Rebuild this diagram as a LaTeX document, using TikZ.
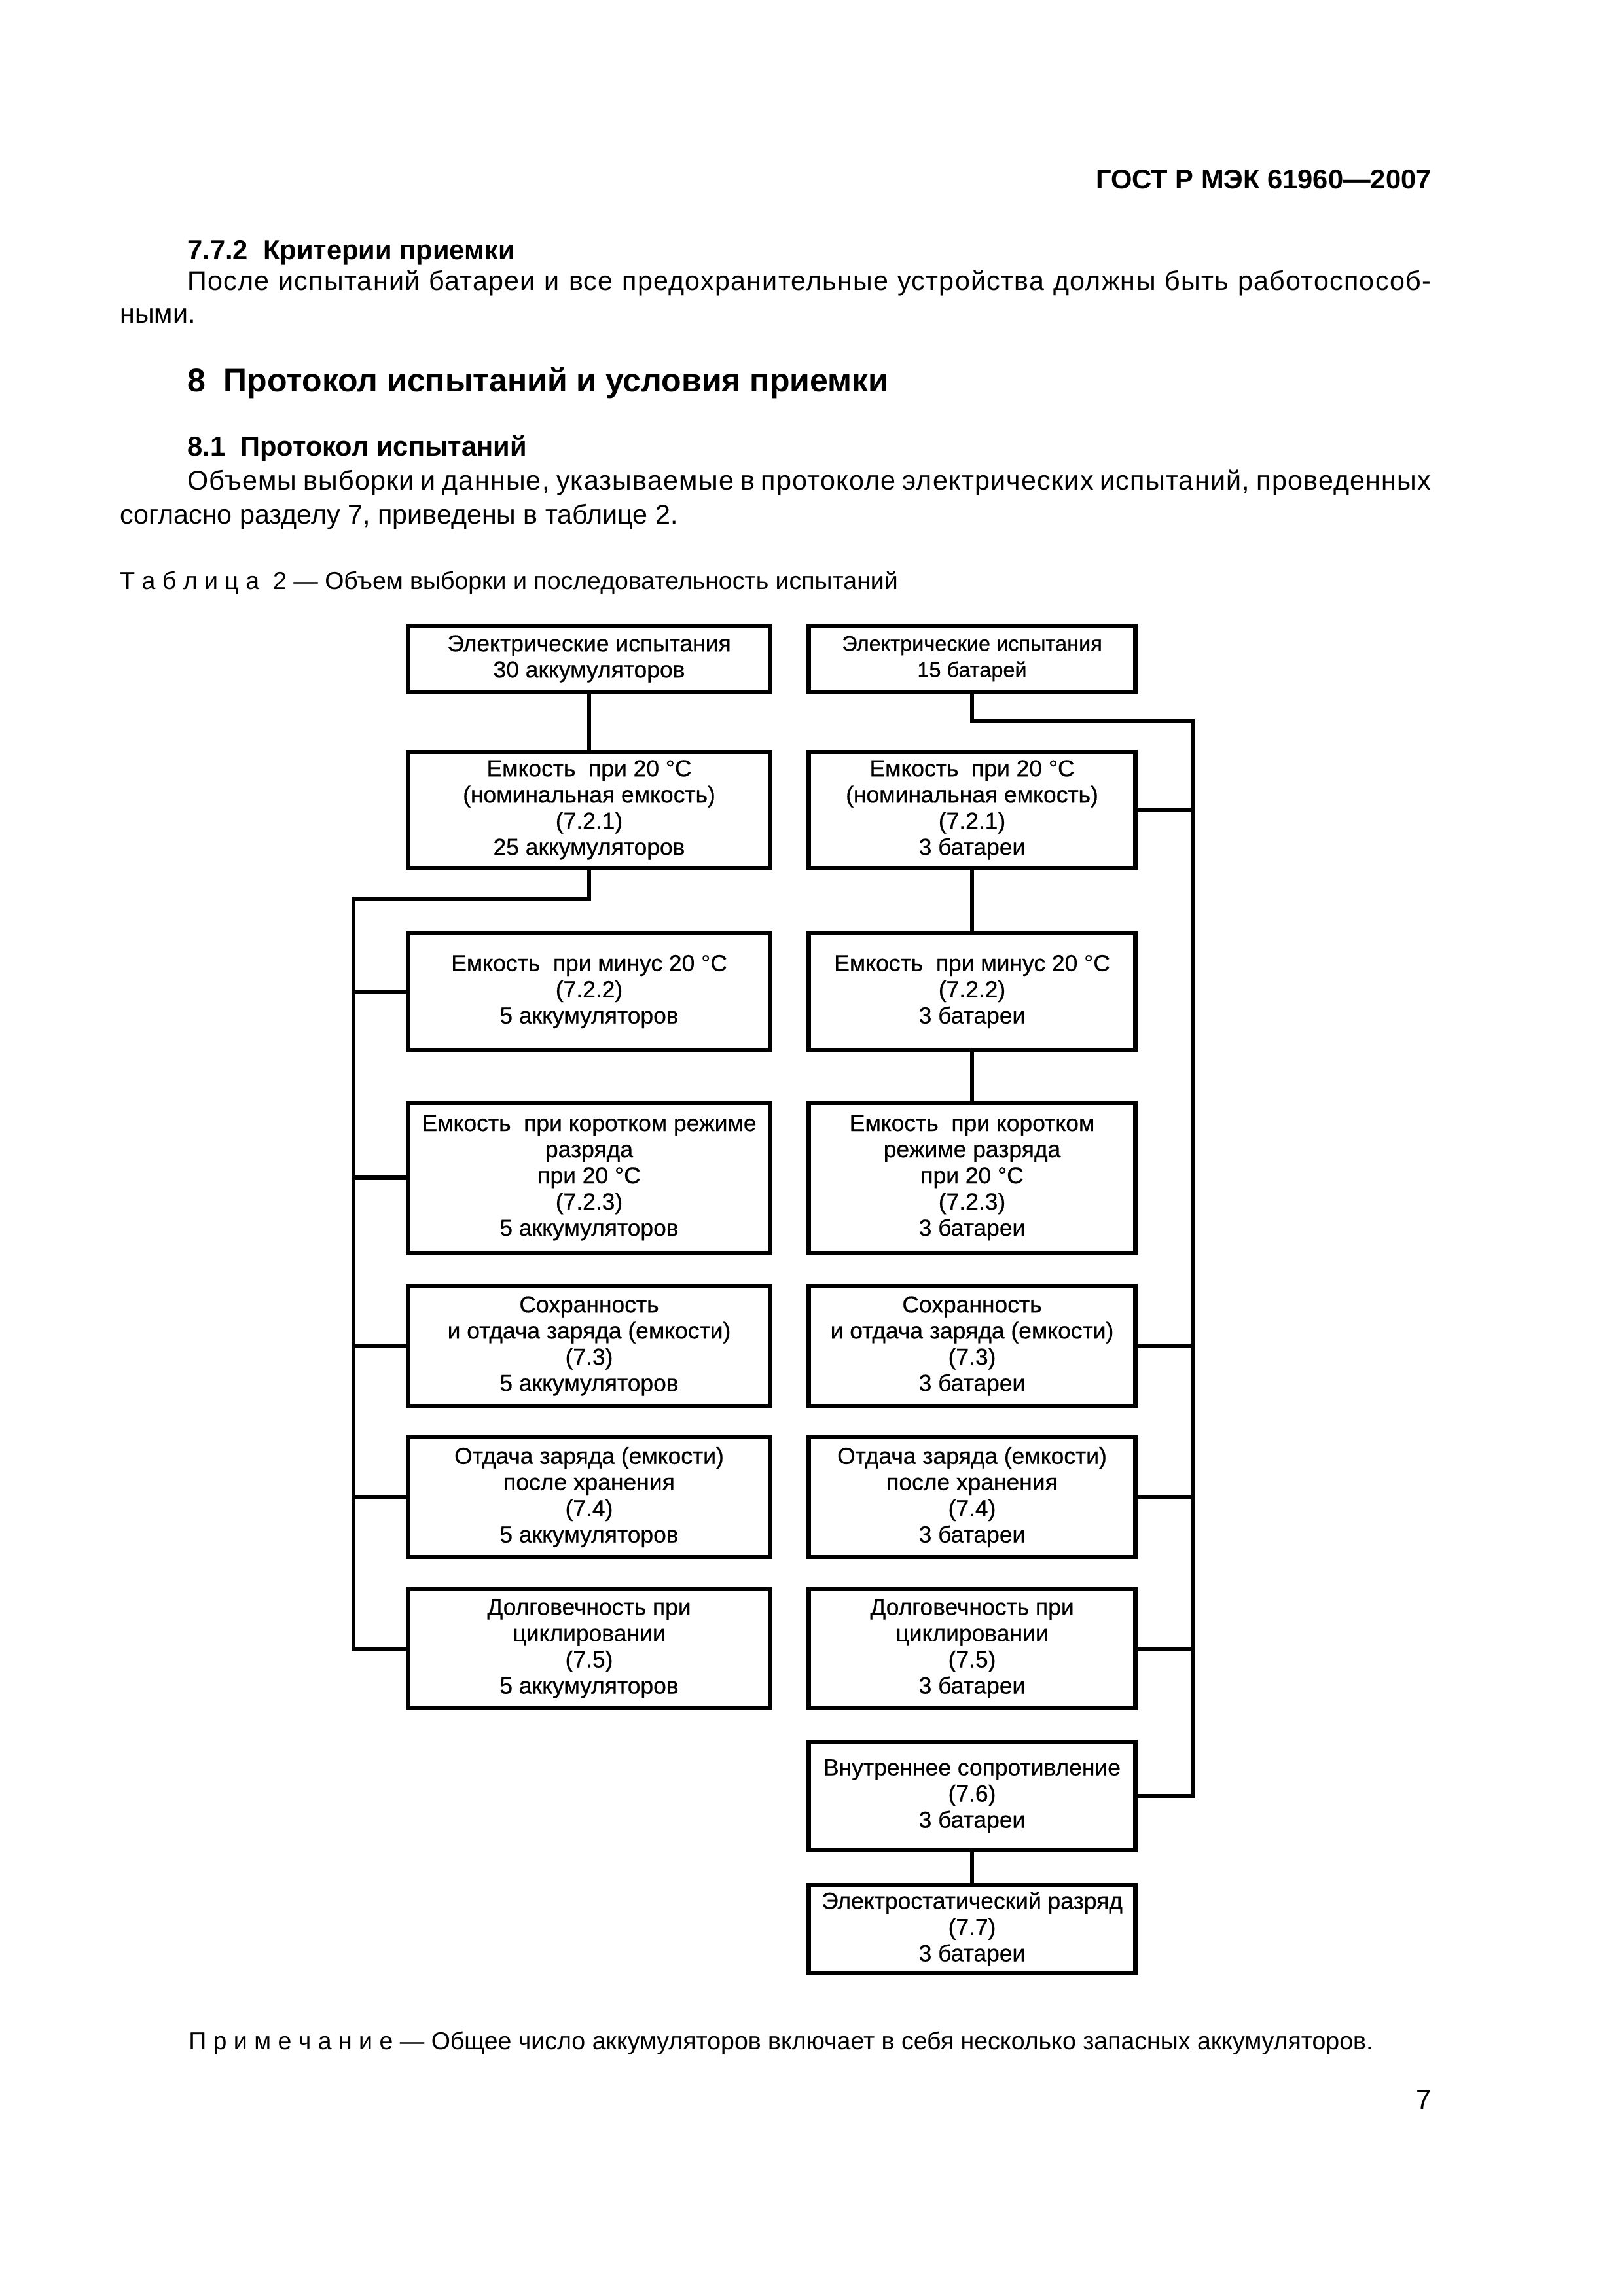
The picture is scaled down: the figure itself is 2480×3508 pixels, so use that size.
\documentclass[tikz,border=0pt]{standalone}
\usepackage{fontspec}
\setmainfont{Liberation Sans}
\newfontfamily\bxfam{Liberation Sans}[FakeBold=0.5]
\newfontfamily\spfam{Liberation Sans}[LetterSpace=3]
\newcommand\bxfont{\bxfam\fontsize{8.5}{9.6}\selectfont}
\newcommand\bxsmall{\bxfam\fontsize{7.8}{9.6}\selectfont}
\newcommand\bodyfont{\fontsize{9.9}{12}\selectfont}
\newcommand\bodysp{\spfam\fontsize{9.9}{12}\selectfont}
\begin{document}
\begin{tikzpicture}[x=0.24pt,y=-0.24pt,line width=1.6pt,
  lbox/.style={draw,rectangle,minimum width=553*0.24pt,inner sep=0pt,align=center,font=\bxfont},
  rbox/.style={draw,rectangle,minimum width=499*0.24pt,inner sep=0pt,align=center,font=\bxfont},
  txt/.style={anchor=base west,inner sep=0pt},
  conn/.style={line width=1.6pt}]
\fill[white] (0,0) rectangle (2480,3508);
\useasboundingbox (0,0) rectangle (2480,3508);

% page text
\node[anchor=base east,inner sep=0pt,font=\fontsize{10}{12}\selectfont\bfseries] (hdr) at (2190,289) {ГОСТ Р МЭК 61960—2007};
\node[txt,font=\fontsize{10}{12}\selectfont\bfseries] (s772) at (283,397) {7.7.2\ \ Критерии приемки};
\node[txt,font=\bodysp] (p1a) at (283,444) {\hbox to 456pt{После испытаний батареи и все предохранительные устройства должны быть работоспособ-}};
\node[txt,font=\bodyfont] (p1b) at (180,494) {ными.};
\node[txt,font=\fontsize{12}{14}\selectfont\bfseries] (s8) at (283,599) {8\ \ Протокол испытаний и условия приемки};
\node[txt,font=\fontsize{10}{12}\selectfont\bfseries] (s81) at (283,697) {8.1\ \ Протокол испытаний};
\node[txt,font=\bodysp] (p2a) at (283,749) {\hbox to 456pt{Объемы выборки и данные, указываемые в протоколе электрических испытаний, проведенных}};
\node[txt,font=\bodyfont] (p2b) at (180,801) {согласно разделу 7, приведены в таблице 2.};
\node[txt,font=\fontsize{9}{11}\selectfont] (cap) at (180,900) {Т а б л и ц а\ \ 2 — Объем выборки и последовательность испытаний};
\node[txt,font=\fontsize{9}{11}\selectfont] (note) at (285,3131) {П р и м е ч а н и е — Общее число аккумуляторов включает в себя несколько запасных аккумуляторов.};
\node[anchor=base east,inner sep=0pt,font=\fontsize{10}{12}\selectfont] (pg) at (2190,3222) {7};

% left column
\node[lbox,minimum height=101*0.24pt] (L1) at (900,1006.5) {Электрические испытания\\30 аккумуляторов};
\node[lbox,minimum height=177*0.24pt] (L2) at (900,1237.5) {Емкость~ при 20 °C\\(номинальная емкость)\\(7.2.1)\\25 аккумуляторов};
\node[lbox,minimum height=178*0.24pt] (L3) at (900,1515) {Емкость~ при минус 20 °C\\(7.2.2)\\5 аккумуляторов};
\node[lbox,minimum height=229*0.24pt] (L4) at (900,1799.5) {Емкость~ при коротком режиме\\разряда\\при 20 °C\\(7.2.3)\\5 аккумуляторов};
\node[lbox,minimum height=183*0.24pt] (L5) at (900,2056.5) {Сохранность\\и отдача заряда (емкости)\\(7.3)\\5 аккумуляторов};
\node[lbox,minimum height=183*0.24pt] (L6) at (900,2287.5) {Отдача заряда (емкости)\\после хранения\\(7.4)\\5 аккумуляторов};
\node[lbox,minimum height=182*0.24pt] (L7) at (900,2519) {Долговечность при\\циклировании\\(7.5)\\5 аккумуляторов};

% right column
\node[rbox,minimum height=101*0.24pt,font=\bxsmall] (R1) at (1485,1006.5) {Электрические испытания\\15 батарей};
\node[rbox,minimum height=177*0.24pt] (R2) at (1485,1237.5) {Емкость~ при 20 °C\\(номинальная емкость)\\(7.2.1)\\3 батареи};
\node[rbox,minimum height=178*0.24pt] (R3) at (1485,1515) {Емкость~ при минус 20 °C\\(7.2.2)\\3 батареи};
\node[rbox,minimum height=229*0.24pt] (R4) at (1485,1799.5) {Емкость~ при коротком\\режиме разряда\\при 20 °C\\(7.2.3)\\3 батареи};
\node[rbox,minimum height=183*0.24pt] (R5) at (1485,2056.5) {Сохранность\\и отдача заряда (емкости)\\(7.3)\\3 батареи};
\node[rbox,minimum height=183*0.24pt] (R6) at (1485,2287.5) {Отдача заряда (емкости)\\после хранения\\(7.4)\\3 батареи};
\node[rbox,minimum height=182*0.24pt] (R7) at (1485,2519) {Долговечность при\\циклировании\\(7.5)\\3 батареи};
\node[rbox,minimum height=166*0.24pt] (R8) at (1485,2744) {Внутреннее сопротивление\\(7.6)\\3 батареи};
\node[rbox,minimum height=134*0.24pt] (R9) at (1485,2947) {Электростатический разряд\\(7.7)\\3 батареи};

% bus coordinates
\coordinate (lbt) at (540,1373);
\coordinate (rbt) at (1822,1101);

% left connectors
\draw[conn] (L1.south) -- (L2.north);
\draw[conn] (L2.south) -- (L2.south |- lbt) -- (lbt) -- (lbt |- L7.west) -- (L7.west);
\foreach \n in {L3,L4,L5,L6} \draw[conn] (lbt |- \n.west) -- (\n.west);

% right connectors
\draw[conn] (R1.south) -- (R1.south |- rbt) -- (rbt) -- (rbt |- R8.east) -- (R8.east);
\foreach \n in {R2,R5,R6,R7} \draw[conn] (\n.east) -- (rbt |- \n.east);
\draw[conn] (R2.south) -- (R3.north);
\draw[conn] (R3.south) -- (R4.north);
\draw[conn] (R8.south) -- (R9.north);
\end{tikzpicture}
\end{document}
